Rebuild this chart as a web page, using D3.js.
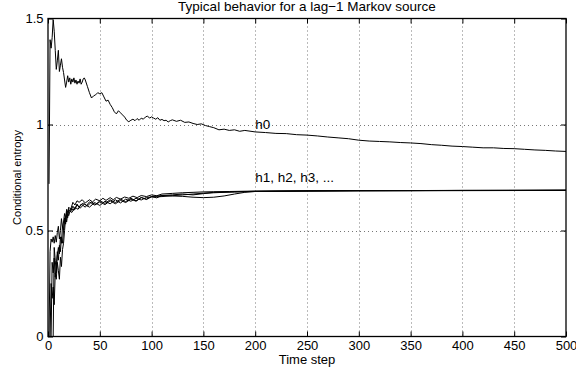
<!DOCTYPE html>
<html>
<head>
<meta charset="utf-8">
<script src="https://cdn.jsdelivr.net/npm/d3@7"></script>
<style>
  body { margin: 0; background: #fff; }
  svg text { font-family: "Liberation Sans", Arial, Helvetica, sans-serif; fill: #000; }
</style>
</head>
<body>
<figure id="entropy-plot" style="margin:0"></figure>
<script>
// values
const title = "Typical behavior for a lag\u22121 Markov source";
const xLabel = "Time step";
const yLabel = "Conditional entropy";
const xTicks = [0, 50, 100, 150, 200, 250, 300, 350, 400, 450, 500];
const yTicks = [0, 0.5, 1, 1.5];

const h0Steps = [1,2,3,4,5,6,7,8,9,10,11,12,13,14,15,16,17,18,19,20,21,22,23,24,25,26,27,28,29,30,31,32,33,34,35,36,38,40,42,44,46,48,50,52,54,56,58,60,62,64,66,68,70,72,74,76,78,80,82,84,86,88,90,92,94,96,98,100,102,104,106,108,110,112,114,116,118,120,124,128,132,136,140,144,148,152,156,160,165,170,175,180,185,190,200,210,220,230,240,250,260,270,280,290,300,310,320,330,340,350,360,370,380,390,400,410,420,430,440,450,460,470,480,490,500];
const h0Values = [0.72,1.40,1.36,1.41,1.495,1.44,1.35,1.26,1.30,1.35,1.25,1.28,1.31,1.27,1.245,1.21,1.175,1.20,1.23,1.20,1.22,1.19,1.215,1.20,1.22,1.195,1.21,1.19,1.205,1.195,1.215,1.19,1.20,1.215,1.22,1.21,1.18,1.15,1.125,1.135,1.14,1.15,1.145,1.15,1.13,1.11,1.115,1.095,1.08,1.06,1.05,1.065,1.055,1.045,1.035,1.02,1.013,1.02,1.025,1.018,1.028,1.02,1.03,1.025,1.035,1.04,1.03,1.036,1.03,1.025,1.032,1.02,1.024,1.018,1.02,1.012,1.018,1.022,1.015,1.02,1.01,1.012,1.005,1.0,1.003,0.995,0.99,0.985,0.975,0.978,0.972,0.975,0.968,0.972,0.965,0.962,0.958,0.957,0.952,0.95,0.946,0.941,0.937,0.933,0.926,0.922,0.92,0.918,0.915,0.913,0.91,0.905,0.902,0.898,0.896,0.893,0.89,0.89,0.887,0.886,0.883,0.88,0.878,0.875,0.873];

const h1Steps = [1,2,3,4,5,6,7,8,9,10,11,12,13,14,15,16,17,18,19,20,22,24,26,28,30,33,36,40,43,46,50,53,56,60,63,66,70,74,78,82,86,90,95,100,105,110,120,130,140,150,160,175,200,250,300,350,400,450,500];
const h1Values = [0,0.40,0.46,0.445,0.47,0.44,0.476,0.445,0.49,0.52,0.46,0.50,0.556,0.515,0.54,0.58,0.56,0.60,0.585,0.61,0.60,0.633,0.62,0.64,0.633,0.645,0.63,0.645,0.635,0.648,0.64,0.652,0.642,0.655,0.645,0.656,0.648,0.658,0.652,0.662,0.655,0.665,0.66,0.668,0.664,0.672,0.675,0.678,0.68,0.682,0.683,0.684,0.686,0.687,0.688,0.688,0.689,0.689,0.69];

const h2Steps = [1,2,3,4,5,6,7,8,9,10,11,12,13,14,15,16,17,18,19,20,22,24,26,28,30,34,38,42,46,50,55,60,65,70,75,80,85,90,95,100,105,110,120,130,140,150,160,180,200,250,300,400,500];
const h2Values = [0,0,0.25,0.18,0.233,0.15,0.30,0.27,0.35,0.31,0.27,0.374,0.33,0.41,0.44,0.50,0.56,0.54,0.58,0.60,0.59,0.615,0.60,0.625,0.61,0.63,0.615,0.635,0.622,0.64,0.628,0.645,0.632,0.648,0.636,0.652,0.64,0.656,0.646,0.66,0.654,0.665,0.668,0.672,0.668,0.674,0.678,0.682,0.684,0.686,0.687,0.688,0.689];

const h3Steps = [1,3,4,5,6,7,8,9,10,11,12,13,14,15,16,17,18,19,20,23,26,29,32,36,40,45,50,55,60,65,70,75,80,85,90,95,100,110,120,130,140,150,160,170,180,190,200,250,300,400,500];
const h3Values = [0,0,0.35,0.30,0.37,0.28,0.33,0.40,0.36,0.43,0.40,0.47,0.44,0.50,0.55,0.53,0.58,0.56,0.595,0.585,0.61,0.60,0.625,0.61,0.635,0.62,0.635,0.622,0.64,0.626,0.642,0.632,0.648,0.638,0.655,0.648,0.66,0.665,0.663,0.661,0.657,0.655,0.657,0.663,0.672,0.68,0.684,0.687,0.688,0.689,0.69];

const h4Steps = [1,5,6,7,8,9,10,11,12,13,14,15,16,17,18,20,22,25,28,31,35,40,45,50,55,60,65,70,75,80,85,90,95,100,110,120,130,140,150,160,180,200,300,400,500];
const h4Values = [0,0,0.42,0.36,0.30,0.38,0.42,0.39,0.47,0.44,0.52,0.50,0.56,0.54,0.59,0.57,0.605,0.595,0.62,0.605,0.625,0.61,0.632,0.618,0.638,0.626,0.645,0.63,0.648,0.638,0.652,0.644,0.656,0.658,0.66,0.664,0.668,0.672,0.676,0.68,0.682,0.685,0.688,0.689,0.69];

const annotations = [
  {x: 200, y: 1.0, text: "h0"},
  {x: 200, y: 0.75, text: "h1, h2, h3, ..."}
];

const width = 576, height = 372;
const margin = {top: 18.5, right: 10, bottom: 35.5, left: 48};

const svg = d3.select("figure#entropy-plot")
  .append("svg")
  .attr("width", width)
  .attr("height", height);

const xScale = d3.scaleLinear().domain([0, 500]).range([margin.left, width - margin.right]);
const yScale = d3.scaleLinear().domain([0, 1.5]).range([height - margin.bottom, margin.top]);

const x0 = xScale.range()[0], x1 = xScale.range()[1];
const y0 = yScale.range()[0], y1 = yScale.range()[1];

// dotted grid
const grid = svg.append("g")
  .attr("stroke", "#777")
  .attr("stroke-width", 1)
  .attr("stroke-dasharray", "1,3");
grid.selectAll("line.gx")
  .data(xTicks.slice(1, -1))
  .join("line")
  .attr("x1", d => Math.round(xScale(d)) + 0.5)
  .attr("x2", d => Math.round(xScale(d)) + 0.5)
  .attr("y1", y1)
  .attr("y2", y0);
grid.selectAll("line.gy")
  .data(yTicks.slice(1, -1))
  .join("line")
  .attr("class", "gy")
  .attr("x1", x0)
  .attr("x2", x1)
  .attr("y1", d => Math.round(yScale(d)) + 0.5)
  .attr("y2", d => Math.round(yScale(d)) + 0.5);

// curves
const series = [
  [h0Steps, h0Values],
  [h1Steps, h1Values],
  [h2Steps, h2Values],
  [h3Steps, h3Values],
  [h4Steps, h4Values]
];
const line = d3.line()
  .x(d => xScale(d[0]))
  .y(d => yScale(d[1]));

svg.append("defs").append("clipPath").attr("id", "plot-clip")
  .append("rect")
  .attr("x", x0).attr("y", y1)
  .attr("width", x1 - x0).attr("height", y0 - y1);

svg.append("g")
  .attr("clip-path", "url(#plot-clip)")
  .selectAll("path")
  .data(series)
  .join("path")
  .attr("fill", "none")
  .attr("stroke", "#000")
  .attr("stroke-width", 1)
  .attr("stroke-linejoin", "round")
  .attr("d", d => line(d3.zip(d[0], d[1])));

// axes, matlab style: ticks inward on all four sides
const tickLen = 5;
const xAxisBottom = d3.axisBottom(xScale).tickValues(xTicks).tickSize(-tickLen).tickPadding(4.3).tickFormat(d3.format("d"));
const xAxisTop = d3.axisTop(xScale).tickValues(xTicks).tickSize(-tickLen).tickFormat("");
const yAxisLeft = d3.axisLeft(yScale).tickValues(yTicks).tickSize(-tickLen).tickPadding(4.5).tickFormat(d => String(d));
const yAxisRight = d3.axisRight(yScale).tickValues(yTicks).tickSize(-tickLen).tickFormat("");

function styleAxis(g) {
  g.select(".domain").remove();
  g.selectAll(".tick line").attr("stroke", "#000");
  g.selectAll("text").style("font-size", "13px").attr("fill", "#000");
}

svg.append("g").attr("transform", `translate(0,${y0})`).call(xAxisBottom).call(styleAxis);
svg.append("g").attr("transform", `translate(0,${y1})`).call(xAxisTop).call(styleAxis);
svg.append("g").attr("transform", `translate(${x0},0)`).call(yAxisLeft).call(styleAxis);
svg.append("g").attr("transform", `translate(${x1},0)`).call(yAxisRight).call(styleAxis);

// box
svg.append("rect")
  .attr("x", x0).attr("y", y1)
  .attr("width", x1 - x0).attr("height", y0 - y1)
  .attr("fill", "none")
  .attr("stroke", "#000")
  .attr("stroke-width", 1.3);

// annotations
svg.append("g")
  .selectAll("text")
  .data(annotations)
  .join("text")
  .attr("x", d => xScale(d.x))
  .attr("y", d => yScale(d.y))
  .attr("dy", "0.35em")
  .style("font-size", "13.5px")
  .text(d => d.text);

// title and labels
svg.append("text")
  .attr("x", (x0 + x1) / 2)
  .attr("y", 11)
  .attr("text-anchor", "middle")
  .style("font-size", "13.5px")
  .text(title);

svg.append("text")
  .attr("x", (x0 + x1) / 2)
  .attr("y", 364)
  .attr("text-anchor", "middle")
  .style("font-size", "13px")
  .text(xLabel);

svg.append("text")
  .attr("transform", `translate(21,${(y0 + y1) / 2}) rotate(-90)`)
  .attr("text-anchor", "middle")
  .style("font-size", "11px")
  .text(yLabel);
</script>
</body>
</html>
